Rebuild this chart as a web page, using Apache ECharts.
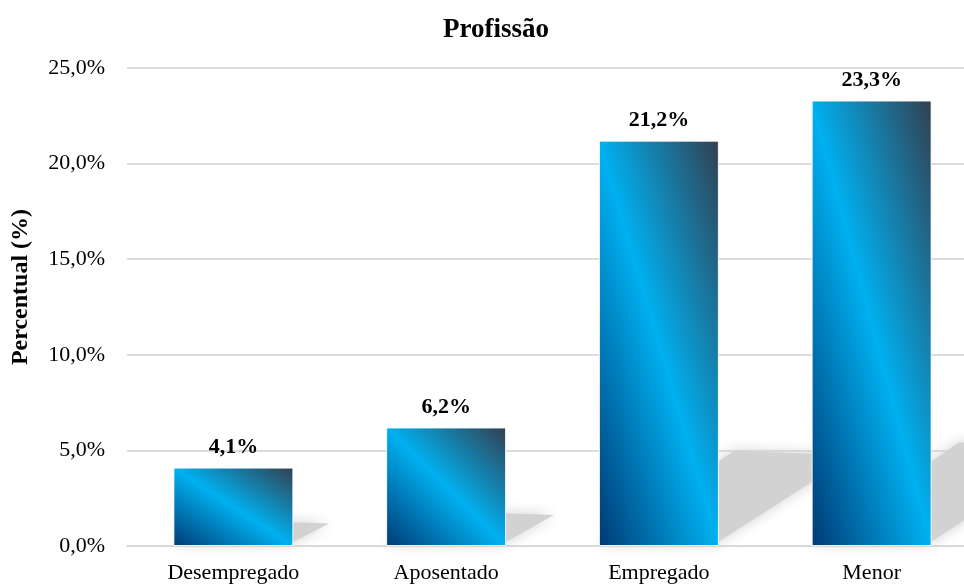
<!DOCTYPE html>
<html>
<head>
<meta charset="utf-8">
<script src="https://cdn.jsdelivr.net/npm/echarts@6/dist/echarts.min.js"></script>
<style>
  html, body { margin: 0; padding: 0; background: #ffffff; }
  #chart { width: 964px; height: 584px; }
</style>
</head>
<body>
<div id="chart"></div>
<script>
// Occupation distribution (%)
const chartTitle = 'Profissão';
const axisName = 'Percentual (%)';
const categories = ['Desempregado', 'Aposentado', 'Empregado', 'Menor'];
const values = [4.1, 6.2, 21.2, 23.3];

const FONT = '"Liberation Serif", "Times New Roman", serif';
const BAR_WIDTH = 120;

const fmtPct = v => v.toFixed(1).replace('.', ',') + '%';

// Diagonal gradient whose mid-line follows the bar's top-left → bottom-right diagonal
const gradStops = [
  { offset: 0, color: '#003a74' },
  { offset: 0.5, color: '#00b0f0' },
  { offset: 1, color: '#323f50' }
];
function barGradient(w, h) {
  const d2 = w * w + h * h;
  const x2 = 2 * h * h / d2;
  const y2 = 1 - 2 * w * w / d2;
  return new echarts.graphic.LinearGradient(0, 1, x2, y2, gradStops);
}

const chart = echarts.init(document.getElementById('chart'), null, { renderer: 'canvas' });

const option = {
  animation: false,
  backgroundColor: '#ffffff',
  title: {
    text: chartTitle,
    left: 438,
    top: 12,
    textStyle: { fontFamily: FONT, fontWeight: 'bold', fontSize: 27, color: '#000000' }
  },
  grid: { left: 127, right: -14, top: 68, bottom: 38, containLabel: false, outerBoundsMode: 'none' },
  xAxis: {
    type: 'category',
    data: categories,
    axisTick: { show: false },
    axisLine: { lineStyle: { color: '#d9d9d9', width: 2 } },
    axisLabel: { fontFamily: FONT, fontSize: 22, color: '#000000', margin: 16 }
  },
  yAxis: {
    type: 'value',
    min: 0,
    max: 25,
    interval: 5,
    name: axisName,
    nameLocation: 'middle',
    nameRotate: 90,
    nameGap: 94,
    nameTextStyle: {
      fontFamily: FONT, fontWeight: 'bold', fontSize: 24, color: '#000000',
      padding: [0, 0, 0, 40]
    },
    axisLine: { show: false },
    axisTick: { show: false },
    axisLabel: { fontFamily: FONT, fontSize: 22, color: '#000000', margin: 22, formatter: fmtPct },
    splitLine: { lineStyle: { color: '#dcdcdc', width: 2 } }
  },
  series: [
    {
      // soft perspective shadow cast behind each bar
      id: 'shadows',
      type: 'custom',
      z: 1,
      silent: true,
      clip: false,
      data: values.map((v, i) => [i, v]),
      renderItem: function (params, api) {
        const i = api.value(0);
        const v = api.value(1);
        const base = api.coord([i, 0]);
        const top = api.coord([i, v]);
        const h = base[1] - top[1];
        const sh = 0.21 * h + 8;
        const s = 1.45 * sh;
        const half = BAR_WIDTH / 2;
        const y0 = base[1] - 2;
        return {
          type: 'polygon',
          shape: {
            points: [
              [base[0] - half, y0],
              [base[0] + half - 4, y0],
              [base[0] + half + s, y0 - sh + 4],
              [base[0] - half + s, y0 - sh]
            ]
          },
          style: { fill: '#d2d2d2', shadowBlur: 14, shadowColor: '#d2d2d2' }
        };
      }
    },
    {
      id: 'bars',
      type: 'bar',
      z: 3,
      barWidth: BAR_WIDTH,
      data: values,
      itemStyle: { color: '#00b0f0', borderColor: 'rgba(255,255,255,0.9)', borderWidth: 1 },
      label: {
        show: true,
        position: 'top',
        distance: 9,
        formatter: p => fmtPct(p.value),
        fontFamily: FONT,
        fontWeight: 'bold',
        fontSize: 22,
        color: '#000000'
      }
    }
  ]
};

chart.setOption(option);

// Apply per-bar gradients sized to each bar's pixel box
const barData = values.map((v, i) => {
  const p0 = chart.convertToPixel({ gridIndex: 0 }, [i, 0]);
  const p1 = chart.convertToPixel({ gridIndex: 0 }, [i, v]);
  const h = Math.max(1, p0[1] - p1[1]);
  return { value: v, itemStyle: { color: barGradient(BAR_WIDTH, h) } };
});
chart.setOption({ series: [{ id: 'bars', data: barData }] });
</script>
</body>
</html>
